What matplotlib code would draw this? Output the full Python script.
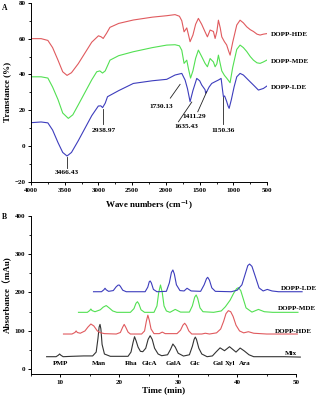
import numpy as np
import matplotlib.pyplot as plt
from matplotlib.ticker import MultipleLocator

# ---- Panel A: FTIR spectra ----
wn_hde = [4000, 3850, 3750, 3680, 3600, 3530, 3466, 3400, 3300, 3200, 3100, 3000, 2960, 2930,
          2880, 2830, 2700, 2483, 2200, 1988, 1865, 1800, 1765, 1731, 1691, 1665, 1642, 1600,
          1560, 1519, 1470, 1420, 1385, 1345, 1296, 1271, 1245, 1222, 1195, 1172, 1133, 1100,
          1070, 1049, 1010, 950, 901, 852, 802, 750, 703, 650, 604, 555, 505]
tr_hde = [60, 60, 59, 55, 48, 41.5, 39.5, 41, 46, 52, 58, 61.6, 61, 60.1,
          63, 66.3, 68.5, 70.4, 72, 72.8, 73.4, 72.5, 70, 63.8, 66, 62, 58.3, 62,
          68, 71.3, 68, 63.8, 61, 64.8, 64, 60.1, 64, 70.3, 66, 61, 58.3, 56.5,
          53, 50.8, 58, 67.6, 70.3, 68.8, 66.6, 65, 64, 62.5, 62, 62.5, 62.8]

wn_mde = [4000, 3850, 3750, 3680, 3600, 3530, 3447, 3380, 3300, 3200, 3100, 3026, 2980, 2940,
          2900, 2829, 2700, 2483, 2200, 1988, 1865, 1800, 1765, 1731, 1691, 1665, 1635, 1600,
          1560, 1519, 1470, 1420, 1385, 1345, 1296, 1271, 1245, 1222, 1195, 1172, 1133, 1100,
          1070, 1049, 1010, 950, 901, 852, 802, 750, 703, 650, 604, 555, 505]
tr_mde = [38.7, 38.7, 38, 33, 26, 18.5, 15.5, 17.5, 23, 30, 37, 41.5, 42, 40.8,
          42, 48, 50.5, 52.7, 55, 56.4, 56.6, 56, 53.5, 46.2, 48, 43, 38, 42,
          49, 53.6, 50, 46.2, 44.3, 48.9, 47, 44.3, 46, 50.8, 46, 42, 39.5, 38,
          36.5, 35.4, 44, 54, 56.4, 55, 52.8, 50, 48, 46.5, 46.2, 47, 48]

wn_lde = [4000, 3850, 3750, 3680, 3600, 3530, 3466, 3400, 3300, 3200, 3100, 3002, 2965, 2939,
          2900, 2866, 2700, 2483, 2200, 1988, 1865, 1765, 1716, 1680, 1642, 1600, 1543, 1500,
          1469, 1420, 1411, 1395, 1360, 1321, 1270, 1222, 1182, 1160, 1148, 1130, 1100, 1080,
          1063, 1030, 990, 950, 901, 852, 778, 700, 629, 555, 505]
tr_lde = [13.1, 13.5, 13, 9, 2, -3.5, -5.5, -3.5, 3, 10, 17, 22.4, 22.5, 21.5,
          24, 27.6, 31, 35, 36.5, 37.3, 39.7, 40.6, 36.9, 32, 24.8, 31, 37.8, 36.5,
          34.1, 31.5, 29.5, 30.4, 33, 35, 36, 36.9, 37.8, 31, 27.6, 28, 25, 22.5,
          21.1, 26, 33, 38.7, 40.6, 39.7, 36.9, 34, 31.3, 32.2, 33.5]

ftir_notes = ["3466.43", "2938.97", "1730.13", "1635.43", "1411.29", "1150.36"]
note_text_xy = [(3466, -14.6), (2928, 9), (2072, 22.4), (1690, 11.2), (1578, 16.4), (1148, 8.6)]
note_line = [((3466, -6.3), (3466, -12)), ((2939, 21), (2939, 12.3)), ((1790, 34.5), (1935, 26.8)),
             ((1617, 24.6), (1815, 13.6)), ((1395, 30.4), (1528, 19.2)), ((1150, 27.6), (1150, 12.3))]

# ---- Panel B: HPLC chromatograms ----
t_mix = [7.7, 9.3, 9.7, 9.9, 10.1, 10.5, 12, 14, 15.5, 16.1, 16.4, 16.6, 16.75, 16.9, 17.1, 17.5,
         18.5, 21.5, 22.0, 22.35, 22.6, 22.85, 23.2, 23.6, 24.0, 24.5, 24.9, 25.25, 25.6, 26.0,
         26.6, 27.2, 28.2, 28.7, 29.1, 29.5, 30.0, 30.9, 31.9, 32.4, 32.7, 32.9, 33.1, 33.5, 34.0,
         34.9, 35.8, 36.4, 37.1, 37.85, 38.7, 39.8, 40.5, 41.2, 42.0, 42.8, 45, 48, 50.7]
a_mix = [33, 33, 37, 40, 37, 33, 34, 35, 35, 45, 80, 110, 117, 105, 65, 40,
         34, 34, 45, 70, 85, 75, 58, 47, 46, 55, 78, 87.6, 78, 55,
         40, 35.6, 38, 52, 66, 58, 42, 34.7, 38, 60, 78, 84, 78, 55, 40,
         33, 35, 45, 56, 48.6, 59, 45, 55.5, 48, 38, 33, 33, 33, 32]

t_hde = [10.56, 12.0, 12.5, 12.7, 12.9, 13.4, 14.2, 14.7, 15.2, 15.7, 16.3, 16.8, 17.5, 19.5,
         20.2, 20.6, 20.85, 21.1, 21.5, 21.9, 23.8, 24.3, 24.6, 24.86, 25.1, 25.4, 25.9, 26.8,
         27.3, 27.8, 29.8, 30.4, 30.8, 31.1, 31.4, 31.8, 32.3, 34.0, 34.6, 35.3, 36.5, 37.2,
         37.7, 38.1, 38.5, 38.9, 39.3, 39.8, 40.4, 41.1, 41.9, 42.8, 45, 48, 50.2]
a_hde = [92, 92, 96, 100, 96, 94, 100, 110, 118, 113, 100, 95.5, 93, 92,
         96, 110, 117, 110, 97, 92, 92, 100, 125, 141, 128, 105, 93, 93,
         97, 93, 93, 102, 115, 120, 114, 100, 92, 92, 94, 92, 95, 105,
         125, 145, 152.7, 150, 138, 115, 100, 95, 98, 94, 92, 92, 92]

t_mde = [13.1, 14.6, 15.0, 15.2, 15.4, 15.9, 16.8, 17.3, 17.8, 18.3, 18.9, 19.6, 21.9, 22.5,
         22.85, 23.1, 23.35, 23.7, 24.3, 25.9, 26.4, 26.7, 27.0, 27.3, 27.6, 28.0, 28.6, 29.5,
         30.4, 31.9, 32.4, 32.8, 33.05, 33.3, 33.7, 34.2, 36.0, 37.3, 38.0, 38.8, 39.4, 39.9,
         40.2, 40.6, 41.0, 41.5, 42.5, 43.6, 44.6, 46, 50.3]
a_mde = [148.4, 148.4, 153, 157, 153, 150, 155, 162, 166, 160, 152, 148.4, 148.4, 158,
         172, 176, 170, 155, 148.4, 148.4, 165, 200, 219.5, 200, 165, 152, 148.4, 156,
         149, 149, 165, 188, 193.5, 185, 160, 150, 148.4, 152, 163, 180, 198, 210,
         212.6, 205, 185, 160, 149, 156, 150, 148.4, 148.4]

t_lde = [15.65, 17.0, 17.4, 17.6, 17.8, 18.2, 19.0, 19.5, 19.8, 20.0, 20.2, 20.6, 21.2, 24.4,
         24.85, 25.1, 25.25, 25.45, 25.8, 26.4, 28.0, 28.5, 28.85, 29.1, 29.35, 29.7, 30.3, 31.0,
         31.5, 32.2, 33.8, 34.4, 34.8, 35.0, 35.3, 35.7, 36.3, 39.0, 40.0, 40.8, 41.4, 41.8,
         42.1, 42.5, 43.0, 43.7, 44.4, 45.1, 45.9, 47.0, 51.0]
a_lde = [202, 202, 207, 211, 207, 203, 205, 215, 219, 219.5, 216, 206, 202, 202,
         214, 228, 230, 225, 208, 202, 203, 225, 252, 258.6, 248, 220, 205, 204,
         211, 204, 203, 220, 236, 239.5, 232, 212, 203, 202, 206, 220, 250, 270,
         274, 268, 245, 212, 204, 208, 204, 202, 202]

sugars = ["PMP", "Man", "Rha", "GlcA", "GalA", "Glc", "Gal", "Xyl", "Ara"]
sugar_t = [10.0, 16.6, 22.0, 25.1, 29.2, 32.9, 36.8, 38.8, 41.3]

c_red, c_green, c_blue, c_black = "#e05a5e", "#52e052", "#3d3dbd", "#333333"

plt.rcParams.update({
    "font.family": "serif",
    "font.serif": ["Liberation Serif", "DejaVu Serif"],
    "font.weight": "bold",
    "mathtext.fontset": "stix",
    "font.size": 5,
    "axes.linewidth": 0.7,
    "xtick.direction": "out",
    "ytick.direction": "out",
    "xtick.major.size": 2.5,
    "ytick.major.size": 2.5,
    "xtick.minor.size": 1.5,
    "ytick.minor.size": 1.5,
    "xtick.major.width": 0.7,
    "ytick.major.width": 0.7,
    "xtick.minor.width": 0.6,
    "ytick.minor.width": 0.6,
    "xtick.major.pad": 1.8,
    "ytick.major.pad": 1.5,
})

fig = plt.figure(figsize=(3.23, 4.0), dpi=100)
axA = fig.add_axes([0.096, 0.545, 0.731, 0.448])
axB = fig.add_axes([0.095, 0.065, 0.822, 0.396])

for ax in (axA, axB):
    ax.spines["top"].set_visible(False)
    ax.spines["right"].set_visible(False)

# ---- A ----
axA.plot(wn_hde, tr_hde, color=c_red, lw=0.8)
axA.plot(wn_mde, tr_mde, color=c_green, lw=0.8)
axA.plot(wn_lde, tr_lde, color=c_blue, lw=0.8)
for lab, (tx, ty), (p0, p1) in zip(ftir_notes, note_text_xy, note_line):
    axA.plot([p0[0], p1[0]], [p0[1], p1[1]], color="#222222", lw=0.6)
    axA.text(tx, ty, lab, ha="center", va="center", fontsize=5.3, fontweight="bold")
for lab, y in zip(["DOPP-HDE", "DOPP-MDE", "DOPP-LDE"], [62.5, 47.5, 32.6]):
    axA.text(445, y, lab, ha="left", va="center", fontsize=5.0, fontweight="bold", clip_on=False)

axA.set_xlim(4000, 500)
axA.set_ylim(-20, 80)
axA.xaxis.set_major_locator(MultipleLocator(500))
axA.xaxis.set_minor_locator(MultipleLocator(250))
axA.yaxis.set_major_locator(MultipleLocator(20))
axA.yaxis.set_minor_locator(MultipleLocator(10))
axA.set_xlabel(r"Wave numbers (cm$^{\mathbf{-1}}$)", fontsize=6.5, fontweight="bold", labelpad=4)
axA.set_ylabel("Transtance (%)", fontsize=6.5, fontweight="bold", labelpad=2)

# ---- B ----
axB.plot(t_mix, a_mix, color=c_black, lw=0.8, clip_on=False)
axB.plot(t_hde, a_hde, color=c_red, lw=0.8, clip_on=False)
axB.plot(t_mde, a_mde, color=c_green, lw=0.8, clip_on=False)
axB.plot(t_lde, a_lde, color=c_blue, lw=0.8, clip_on=False)
for lab, t in zip(sugars, sugar_t):
    axB.text(t, 15.6, lab, ha="center", va="center", fontsize=5.0, fontweight="bold")
for lab, t, y in zip(["DOPP-LDE", "DOPP-MDE", "DOPP-HDE", "Mix"],
                     [50.4, 50.1, 49.6, 49.1], [211, 159, 98, 41.7]):
    axB.text(t, y, lab, ha="center", va="center", fontsize=5.0, fontweight="bold", clip_on=False)

axB.set_xlim(5, 50)
axB.set_ylim(-12, 400)
axB.xaxis.set_major_locator(MultipleLocator(10))
axB.xaxis.set_minor_locator(MultipleLocator(5))
axB.yaxis.set_major_locator(MultipleLocator(100))
axB.yaxis.set_minor_locator(MultipleLocator(50))
axB.set_xlabel("Time (min)", fontsize=6.5, fontweight="bold", labelpad=1)
axB.set_ylabel("Absorbance（mAu)", fontsize=6.5, fontweight="bold", labelpad=2,
               family=["Liberation Serif", "Noto Sans CJK SC"])

fig.text(0.005, 0.99, "A", fontsize=5.5, fontweight="bold", va="top")
fig.text(0.005, 0.468, "B", fontsize=5.5, fontweight="bold", va="top")

fig.savefig("out.png", dpi=100)
